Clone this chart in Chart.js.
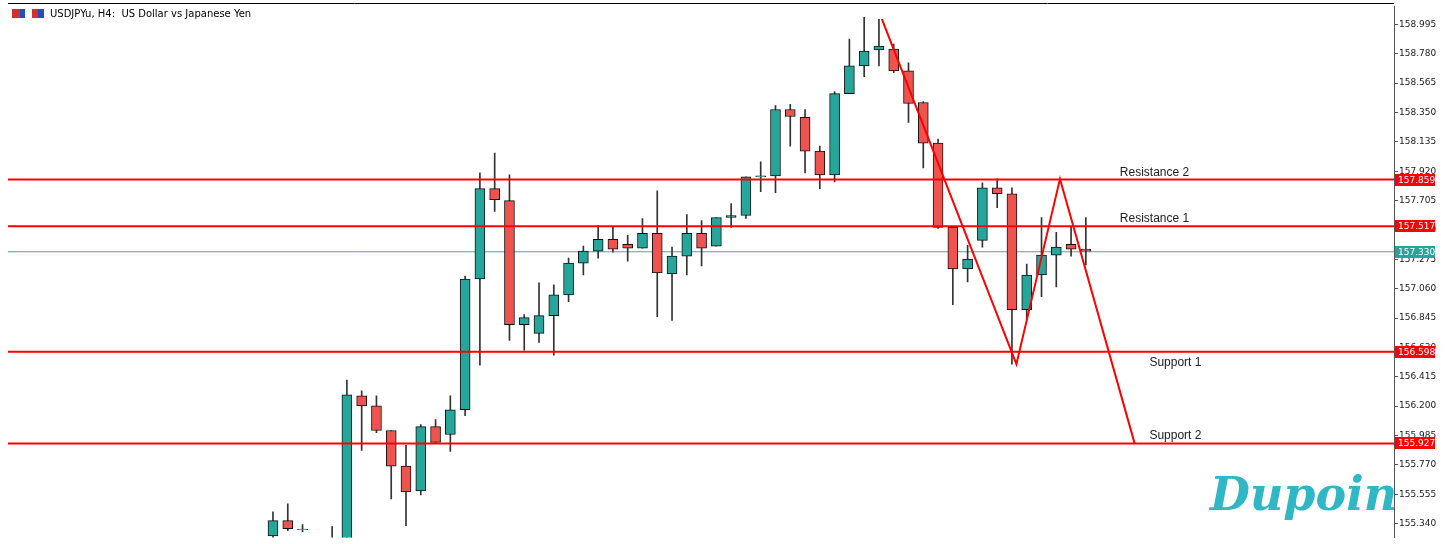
<!DOCTYPE html>
<html>
<head>
<meta charset="utf-8">
<script src="https://cdn.jsdelivr.net/npm/chart.js@4.4.1/dist/chart.umd.min.js"></script>
<style>
  html, body { margin: 0; padding: 0; background: #fff; }
  #wrap { width: 1445px; height: 544px; position: relative; }
</style>
</head>
<body>
<div id="wrap"><canvas id="chart"></canvas></div>
<script>
// USDJPYu H4 candles (index 0 = first visible bar)
const opens  = [155.250,155.361,155.295,155.200,155.225,155.201,156.275,156.202,156.021,155.760,155.578,156.050,155.992,156.173,157.131,157.792,157.705,156.797,156.732,156.863,157.015,157.247,157.335,157.422,157.385,157.356,157.465,157.168,157.298,157.465,157.371,157.581,157.596,157.879,157.886,158.372,158.314,158.067,157.893,158.488,158.692,158.808,158.815,158.655,158.423,158.126,157.509,157.204,157.414,157.799,157.755,156.906,157.160,157.305,157.385,157.349];
const highs  = [155.426,155.484,155.332,155.220,155.317,156.391,156.311,156.275,156.021,155.912,156.064,156.101,156.275,157.153,157.908,158.053,157.893,156.870,157.102,157.088,157.284,157.371,157.523,157.509,157.451,157.574,157.777,157.364,157.603,157.559,157.581,157.683,157.879,157.988,158.401,158.409,158.372,158.104,158.503,158.887,159.047,159.033,158.851,158.713,158.430,158.155,157.509,157.378,157.835,157.864,157.799,157.240,157.581,157.472,157.509,157.581];
const lows   = [155.220,155.288,155.280,155.150,155.180,155.165,155.876,156.006,155.520,155.324,155.549,155.934,155.869,156.130,156.500,157.625,156.681,156.609,156.667,156.573,156.964,157.160,157.284,157.327,157.262,157.356,156.855,156.827,157.160,157.226,157.371,157.509,157.574,157.770,157.763,158.104,157.908,157.792,157.842,158.488,158.612,158.692,158.641,158.278,157.944,157.501,156.943,157.110,157.364,157.654,156.507,156.834,157.001,157.073,157.298,157.233];
const closes = [155.361,155.303,155.295,155.190,155.232,156.282,156.202,156.021,155.760,155.571,156.050,155.934,156.173,157.131,157.792,157.712,156.797,156.848,156.863,157.015,157.247,157.335,157.422,157.349,157.356,157.465,157.175,157.298,157.465,157.356,157.581,157.596,157.879,157.886,158.372,158.321,158.067,157.893,158.488,158.692,158.800,158.837,158.655,158.416,158.126,157.509,157.204,157.276,157.799,157.755,156.906,157.160,157.305,157.364,157.349,157.335];

// horizontal levels
const levelNames  = ['Resistance 2', 'Resistance 1', 'Support 1', 'Support 2'];
const levelValues = [157.859, 157.517, 156.598, 155.927];
const levelLabelX = [57.3, 57.3, 59.3, 59.3];
const levelBelow  = [false, false, true, false];
const bidPrice = 157.330;

// zigzag projection
const zigX = [41.2, 50.3, 53.25, 58.3];
const zigY = [159.033, 156.507, 157.864, 155.927];

// right axis ticks
const tickValues = [158.995,158.780,158.565,158.350,158.135,157.920,157.705,157.490,157.275,157.060,156.845,156.630,156.415,156.200,155.985,155.770,155.555,155.340];

const X_MIN = -17.93, X_MAX = 75.85;
const Y_MIN = 155.237, Y_MAX = 159.127;
const UP = '#26a69a', DOWN = '#ef5350', LINE_RED = '#ff0000';

const idx = opens.map((_, i) => i);
const bodyColors = idx.map(i => closes[i] >= opens[i] ? UP : DOWN);

const datasets = [
  {
    type: 'bar', label: 'wick',
    data: idx.map(i => ({ x: i, y: [lows[i], highs[i]] })),
    backgroundColor: '#333', barThickness: 1, grouped: false, order: 3
  },
  {
    type: 'bar', label: 'body',
    data: idx.map(i => {
      let a = opens[i], b = closes[i];
      if (Math.abs(a - b) < 0.004) b = a + 0.004; // doji still visible
      return { x: i, y: [a, b] };
    }),
    backgroundColor: bodyColors, borderColor: '#111', borderWidth: 1,
    borderSkipped: false, barThickness: 10, grouped: false, order: 2
  },
  {
    type: 'line', label: 'bid',
    data: [{ x: X_MIN, y: bidPrice }, { x: X_MAX, y: bidPrice }],
    borderColor: '#5f9e98', borderWidth: 1, pointRadius: 0, order: 4
  },
  ...levelValues.map(v => ({
    type: 'line', label: 'level',
    data: [{ x: X_MIN, y: v }, { x: X_MAX, y: v }],
    borderColor: LINE_RED, borderWidth: 2, pointRadius: 0, order: 1
  })),
  {
    type: 'line', label: 'zigzag',
    data: zigX.map((x, i) => ({ x: x, y: zigY[i] })),
    borderColor: LINE_RED, borderWidth: 2, pointRadius: 0, order: 0
  }
];

const overlay = {
  id: 'overlay',
  afterDraw(chart) {
    const ctx = chart.ctx;
    const xs = chart.scales.x, ys = chart.scales.y;
    const area = chart.chartArea;
    ctx.save();
    // frame top
    ctx.strokeStyle = '#000';
    ctx.lineWidth = 1;
    ctx.beginPath();
    ctx.moveTo(area.left, 3.5); ctx.lineTo(area.right, 3.5);
    ctx.stroke();

    // title
    ctx.fillStyle = '#d03030'; ctx.fillRect(12, 9, 12, 9);
    ctx.fillStyle = '#2050c0'; ctx.fillRect(20, 9, 5, 9);
    ctx.fillStyle = '#d03030'; ctx.fillRect(32, 9, 6, 9);
    ctx.fillStyle = '#2050c0'; ctx.fillRect(38, 9, 6, 9);
    ctx.fillStyle = '#000';
    ctx.font = '10px "DejaVu Sans"';
    ctx.textBaseline = 'middle';
    ctx.fillText('USDJPYu, H4:  US Dollar vs Japanese Yen', 50, 14);

    // level names
    ctx.font = '12px "Liberation Sans"';
    ctx.fillStyle = '#222';
    ctx.textBaseline = 'alphabetic';
    levelNames.forEach((name, i) => {
      const y = ys.getPixelForValue(levelValues[i]);
      ctx.fillText(name, xs.getPixelForValue(levelLabelX[i]), levelBelow[i] ? y + 14 : y - 4);
    });

    // price tags on axis
    ctx.font = '9px "DejaVu Sans"';
    ctx.textBaseline = 'middle';
    const tag = (v, bg) => {
      const y = Math.round(ys.getPixelForValue(v));
      ctx.fillStyle = bg;
      ctx.fillRect(area.right + 1, y - 6, 40, 12);
      ctx.fillStyle = '#fff';
      ctx.fillText(v.toFixed(3), area.right + 4, y + 0.5);
    };
    levelValues.forEach(v => tag(v, '#ff0000'));
    tag(bidPrice, '#26a69a');

    // logo
    ctx.fillStyle = '#2fb7c6';
    ctx.font = 'italic bold 46px "DejaVu Serif"';
    ctx.textBaseline = 'alphabetic';
    ctx.fillText('Dupoin', 1210, 510);
    ctx.restore();
  }
};

new Chart(document.getElementById('chart'), {
  data: { datasets },
  options: {
    responsive: true,
    maintainAspectRatio: false,
    animation: false,
    layout: { padding: { left: 8, top: 4, bottom: 4, right: 0 } },
    plugins: { legend: { display: false }, tooltip: { enabled: false } },
    scales: {
      x: { type: 'linear', min: X_MIN, max: X_MAX, offset: false, display: false },
      y: {
        position: 'right', min: Y_MIN, max: Y_MAX,
        afterBuildTicks: s => { s.ticks = tickValues.map(v => ({ value: v })); },
        afterFit: s => { s.width = 51; },
        grid: { drawOnChartArea: false, drawTicks: true, tickLength: 4, color: '#555' },
        border: { color: '#555', width: 1 },
        ticks: {
          color: '#222', padding: 1, font: { family: 'DejaVu Sans', size: 9 },
          callback: v => v.toFixed(3)
        }
      }
    }
  },
  plugins: [overlay]
});
</script>
</body>
</html>
